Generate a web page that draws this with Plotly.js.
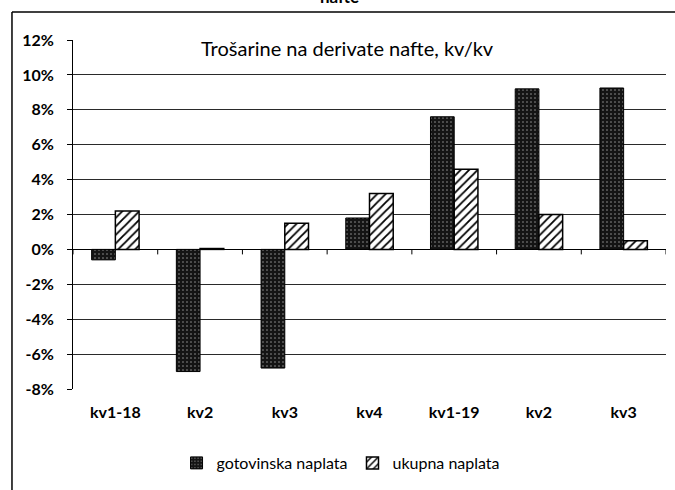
<!DOCTYPE html>
<html>
<head>
<meta charset="utf-8">
<script src="https://cdn.plot.ly/plotly-3.0.1.min.js"></script>
<style>html,body{margin:0;padding:0;background:#fff;}#chart{width:675px;height:490px;}</style>
</head>
<body>
<div id="chart"></div>
<script>
const categories = ["kv1-18", "kv2", "kv3", "kv4", "kv1-19", "kv2", "kv3"];
const categoryIds = ["kv1-18", "kv2 ", "kv3 ", "kv4", "kv1-19", "kv2  ", "kv3  "];
const gotovinska = [-0.6, -7.0, -6.8, 1.8, 7.6, 9.2, 9.25];
const ukupna = [2.2, 0.05, 1.5, 3.2, 4.6, 2.0, 0.5];
const seriesNames = ["gotovinska naplata", "ukupna naplata"];
const yTicks = [-8, -6, -4, -2, 0, 2, 4, 6, 8, 10, 12];
const chartTitle = "Trošarine na derivate nafte, kv/kv";

const FONT = "Lato, 'Open Sans', sans-serif";

const traces = [
  {
    type: "bar", name: seriesNames[0], x: categoryIds, y: gotovinska,
    marker: {color: "#141414", line: {color: "#000", width: 1},
      pattern: {shape: ".", fgcolor: "#9a9a9a", bgcolor: "#141414", size: 4, solidity: 0.12}},
    hoverinfo: "skip"
  },
  {
    type: "bar", name: seriesNames[1], x: categoryIds, y: ukupna,
    marker: {color: "#ffffff", line: {color: "#000", width: 1.5},
      pattern: {shape: "/", fgcolor: "#000", bgcolor: "#fff", size: 6, solidity: 0.3}},
    hoverinfo: "skip"
  }
];

// small tick marks below the zero line at category boundaries
const tickShapes = [];
for (let i = 0; i <= categories.length; i++) {
  tickShapes.push({
    type: "line", xref: "x", yref: "y", x0: i - 0.5, x1: i - 0.5,
    ysizemode: "pixel", yanchor: 0, y0: 0, y1: -5,
    line: {color: "#000", width: 1}
  });
}

const yMin = yTicks[0], yMax = yTicks[yTicks.length - 1];
const layout = {
  width: 675, height: 490,
  margin: {l: 73, r: 9, t: 40, b: 101},
  paper_bgcolor: "#fff", plot_bgcolor: "#fff",
  barmode: "group", bargap: 0.44, bargroupgap: 0,
  showlegend: true,
  font: {family: FONT, color: "#000"},
  xaxis: {
    type: "category", tickvals: categoryIds, ticktext: categories,
    range: [-0.5, categories.length - 0.5],
    showgrid: false, zeroline: false, showline: false, ticks: "",
    tickfont: {family: FONT, size: 16, color: "#000", weight: "bold"},
    ticklabelstandoff: 12
  },
  yaxis: {
    range: [yMin, yMax], tickmode: "array", tickvals: yTicks,
    ticktext: yTicks.map(v => v + "%"),
    showgrid: true, gridcolor: "#2a2a2a", gridwidth: 1,
    zeroline: true, zerolinecolor: "#000", zerolinewidth: 1,
    showline: true, linecolor: "#000", linewidth: 1,
    ticks: "outside", ticklen: 5, tickcolor: "#000",
    tickfont: {family: FONT, size: 16, color: "#000", weight: "bold"},
    ticklabelstandoff: 10
  },
  legend: {
    orientation: "h", x: 0.452, xanchor: "center", y: -0.212, yanchor: "middle",
    font: {family: FONT, size: 16, color: "#000"},
    itemwidth: 30, traceorder: "normal", bgcolor: "rgba(0,0,0,0)"
  },
  annotations: [
    {text: chartTitle, xref: "paper", yref: "paper", x: 0.463, y: 0.977,
     xanchor: "center", yanchor: "middle", showarrow: false,
     font: {family: FONT, size: 20, color: "#000"}},
    {text: "nafte", xref: "paper", yref: "paper", x: 0.45, y: 1.088,
     xanchor: "center", yanchor: "bottom", showarrow: false,
     font: {family: FONT, size: 17, color: "#000", weight: "bold"}}
  ],
  shapes: tickShapes.concat([
    {type: "line", xref: "paper", yref: "paper", x0: -0.1029, x1: -0.1029, y0: 1.0802, y1: -0.3,
     line: {color: "#000", width: 1.5}},
    {type: "line", xref: "paper", yref: "paper", x0: -0.1029, x1: 1.02, y0: 1.0802, y1: 1.0802,
     line: {color: "#000", width: 1.5}}
  ])
};

Plotly.newPlot("chart", traces, layout, {displayModeBar: false, staticPlot: true});
</script>
</body>
</html>
